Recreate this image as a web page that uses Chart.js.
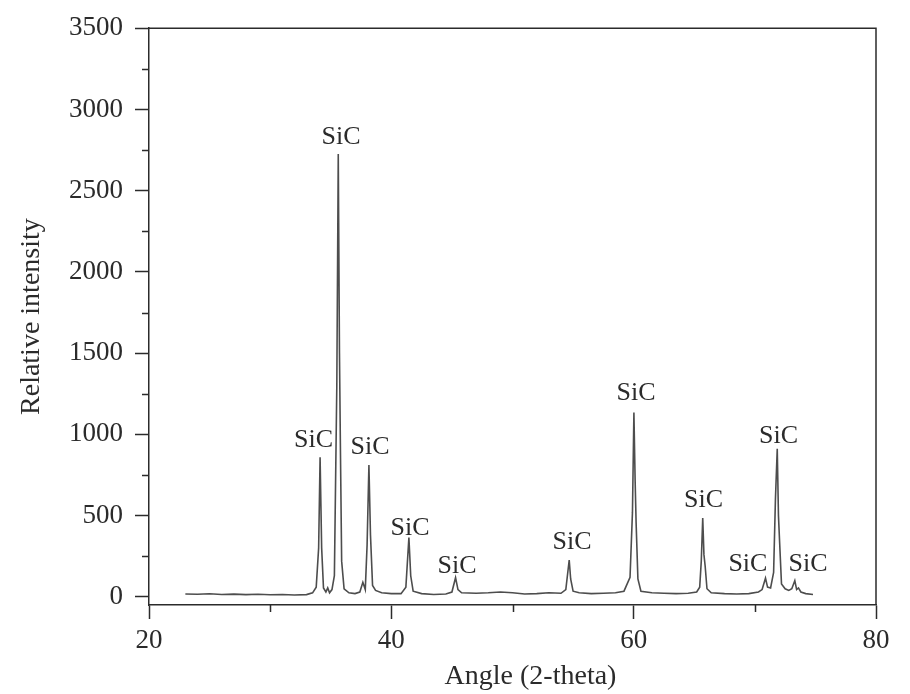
<!DOCTYPE html>
<html lang="en">
  <head>
    <meta charset="UTF-8">
    <title>XRD SiC</title>
    <script src="https://cdn.jsdelivr.net/npm/chart.js"></script>
    <style>
      body {
        margin: 0;
        padding: 0;
        background-color: #ffffff;
      }
      canvas {
        display: block;
      }
    </style>
  </head>
  <body>
  <canvas id="xrdChart" width="910" height="694"></canvas>

  <script>
  // pattern
  var angle = [
    23.0, 24.0, 25.0, 26.0, 27.0, 28.0, 29.0, 30.0, 31.0, 32.0, 33.0, 33.5, 33.8,
    34.0, 34.12, 34.25, 34.4, 34.6, 34.75, 34.9, 35.1, 35.3, 35.5, 35.62, 35.72, 35.8, 35.9,
    36.1, 36.5, 37.0, 37.4, 37.65, 37.85, 38.0, 38.15, 38.28, 38.45, 38.7, 39.2, 40.0, 40.8,
    41.2, 41.45, 41.6, 41.8, 42.5, 43.5, 44.5, 45.0, 45.3, 45.5, 45.8, 47.0, 48.0, 49.0,
    50.0, 51.0, 52.0, 53.0, 54.0, 54.4, 54.68, 54.8, 55.0, 55.5, 56.5, 57.5, 58.5, 59.2,
    59.7, 59.9, 60.02, 60.12, 60.2, 60.35, 60.6, 61.5, 62.5, 63.5, 64.5, 65.2, 65.45, 65.58,
    65.7, 65.8, 65.9, 66.05, 66.4, 67.5, 68.5, 69.5, 70.3, 70.6, 70.88, 71.05, 71.3, 71.55,
    71.7, 71.85, 71.95, 72.05, 72.2, 72.5, 72.8, 73.05, 73.3, 73.45, 73.6, 73.8, 74.2, 74.8
  ];
  var intensity = [
    18, 16, 19, 15, 17, 14, 16, 13, 15, 12, 14, 25, 60,
    300, 860, 300, 55, 30, 55, 25, 45, 130, 1300, 2725, 1500, 900, 220,
    50, 25, 20, 30, 90, 45, 320, 812, 380, 70, 40, 25, 20, 20,
    60, 365, 130, 35, 20, 15, 18, 30, 118, 45, 25, 22, 25, 30,
    25, 18, 20, 25, 22, 45, 227, 110, 35, 25, 20, 22, 25, 35,
    120, 520, 1135, 720, 460, 110, 35, 25, 22, 20, 22, 30, 60, 220,
    486, 260, 190, 50, 25, 20, 18, 20, 30, 45, 115, 60, 55, 150,
    600, 912, 500, 330, 80, 50, 40, 50, 100, 45, 55, 30, 20, 15
  ];

  // peak labels, anchored at (angle, intensity) of the text baseline centre
  var peakText = 'SiC';
  var labelAngle = [35.85, 33.58, 38.24, 41.54, 45.42, 54.91, 60.2, 65.76, 69.43, 71.95, 74.39];
  var labelIntensity = [2788, 922, 879, 381, 146, 296, 1214, 551, 162, 948, 162];

  var xTickValues = [20, 40, 60, 80];
  var yTickValues = [0, 500, 1000, 1500, 2000, 2500, 3000, 3500];
  var xMinorTicks = [30, 50, 70];
  var yMinorTicks = [250, 750, 1250, 1750, 2250, 2750, 3250];

  var inkColor = '#2b2b2b';
  var serif = '"Liberation Serif", "DejaVu Serif", serif';

  var points = angle.map(function (a, i) {
    return { x: a, y: intensity[i] };
  });

  function setTicks(values) {
    return function (scale) {
      scale.ticks = values.map(function (v) { return { value: v }; });
    };
  }

  var framePlugin = {
    id: 'frame',
    afterDraw: function (chart) {
      var ctx = chart.ctx;
      var area = chart.chartArea;
      var xs = chart.scales.x;
      var ys = chart.scales.y;
      ctx.save();
      ctx.strokeStyle = inkColor;
      ctx.lineWidth = 1.5;

      // top and right sides of the box
      ctx.beginPath();
      ctx.moveTo(area.left, area.top);
      ctx.lineTo(area.right, area.top);
      ctx.lineTo(area.right, area.bottom);
      ctx.stroke();

      // minor ticks
      ctx.beginPath();
      yMinorTicks.forEach(function (v) {
        var py = Math.round(ys.getPixelForValue(v)) + 0.5;
        ctx.moveTo(area.left - 7, py);
        ctx.lineTo(area.left, py);
      });
      xMinorTicks.forEach(function (v) {
        var px = Math.round(xs.getPixelForValue(v)) + 0.5;
        ctx.moveTo(px, area.bottom);
        ctx.lineTo(px, area.bottom + 7);
      });
      ctx.stroke();

      // peak labels
      ctx.fillStyle = inkColor;
      ctx.font = '26px ' + serif;
      ctx.textAlign = 'center';
      ctx.textBaseline = 'alphabetic';
      labelAngle.forEach(function (a, i) {
        ctx.fillText(peakText, xs.getPixelForValue(a), ys.getPixelForValue(labelIntensity[i]));
      });

      // x axis title, sits a little right of centre in the original
      ctx.font = '28px ' + serif;
      ctx.textBaseline = 'middle';
      ctx.fillText('Angle (2-theta)', (area.left + area.right) / 2 + 18, 677);
      ctx.restore();
    }
  };

  var ctx = document.getElementById('xrdChart').getContext('2d');
  var xrdChart = new Chart(ctx, {
    type: 'line',
    data: {
      datasets: [{
        data: points,
        borderColor: '#4d4d4d',
        borderWidth: 1.6,
        pointRadius: 0,
        tension: 0,
        fill: false
      }]
    },
    options: {
      responsive: false,
      animation: false,
      devicePixelRatio: 1,
      layout: {
        padding: { top: 20, right: 34, left: 0, bottom: 0 }
      },
      plugins: {
        legend: { display: false },
        tooltip: { enabled: false }
      },
      scales: {
        x: {
          type: 'linear',
          min: 20,
          max: 80,
          afterBuildTicks: setTicks(xTickValues),
          afterFit: function (scale) { scale.height = 89; },
          border: { display: true, color: inkColor, width: 1.5 },
          grid: {
            drawOnChartArea: false,
            drawTicks: true,
            tickLength: 14,
            tickColor: inkColor,
            tickWidth: 1.5
          },
          ticks: {
            padding: 6,
            color: inkColor,
            font: { family: serif, size: 27 },
            callback: function (v) { return String(v); }
          }
        },
        y: {
          type: 'linear',
          min: -50,
          max: 3500,
          afterBuildTicks: setTicks(yTickValues),
          afterFit: function (scale) { scale.width = 149; },
          border: { display: true, color: inkColor, width: 1.5 },
          grid: {
            drawOnChartArea: false,
            drawTicks: true,
            tickLength: 14,
            tickColor: inkColor,
            tickWidth: 1.5
          },
          ticks: {
            padding: 12,
            color: inkColor,
            font: { family: serif, size: 27 },
            callback: function (v) { return String(v); }
          },
          title: {
            display: true,
            text: 'Relative intensity',
            color: inkColor,
            font: { family: serif, size: 28 },
            padding: { top: 15, bottom: 0 }
          }
        }
      }
    },
    plugins: [framePlugin]
  });
  </script>
  </body>
</html>
